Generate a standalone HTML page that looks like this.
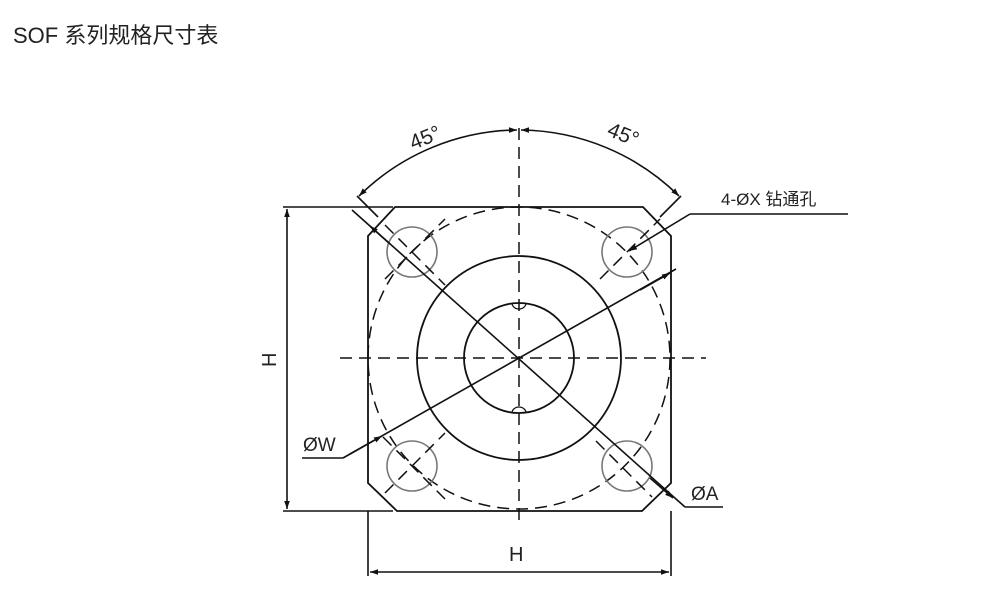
<!DOCTYPE html>
<html><head><meta charset="utf-8"><style>
html,body{margin:0;padding:0;background:#fff;width:1000px;height:593px;overflow:hidden}
svg{display:block}
text{font-family:"Liberation Sans","Noto Sans CJK SC",sans-serif;fill:#222}
</style></head><body>
<svg width="1000" height="593" viewBox="0 0 1000 593" xmlns="http://www.w3.org/2000/svg">
<defs>
<marker id="ar" viewBox="0 0 10 10" refX="10" refY="5" markerWidth="12" markerHeight="8" markerUnits="userSpaceOnUse" orient="auto-start-reverse">
<path d="M0,1.5 L10,5 L0,8.5 z" fill="#111"/>
</marker>
</defs>
<text x="13" y="43" font-size="22" fill="#333">SOF 系列规格尺寸表</text>

<g stroke="#111" stroke-width="1.8" fill="none">
<path d="M395,207 L643,207 L671,236 L671,483 L642,511 L397,511 L368,483 L368,236 Z"/>
<circle cx="519" cy="358" r="102"/>
<circle cx="519" cy="358" r="55"/>
<path d="M512,303 A7,6 0 0 0 526,303" stroke-width="1.2"/>
<path d="M512,413 A7,6 0 0 1 526,413" stroke-width="1.2"/>
</g>
<circle cx="519" cy="358" r="151" stroke="#111" stroke-width="1.5" fill="none" stroke-dasharray="12,7"/>
<g stroke="#777" stroke-width="1.6" fill="none">
<circle cx="412" cy="252" r="25"/><circle cx="627" cy="252" r="25"/>
<circle cx="412" cy="466" r="25"/><circle cx="627" cy="466" r="25"/>
</g>
<g stroke="#111" stroke-width="1.5" stroke-dasharray="12,7">
<line x1="519" y1="128" x2="519" y2="522"/>
<line x1="340" y1="358" x2="706" y2="358"/>
<line x1="385" y1="225" x2="445" y2="285"/>
<line x1="385" y1="279" x2="445" y2="219"/>
<line x1="600" y1="279" x2="660" y2="219"/>
<line x1="385" y1="493" x2="445" y2="433"/>
<line x1="383" y1="437" x2="445" y2="499"/>
<line x1="596" y1="441" x2="652" y2="497"/>
</g>
<g stroke="#111" stroke-width="1.6" fill="none">
<line x1="357" y1="196" x2="378" y2="217"/>
<line x1="681" y1="196" x2="660" y2="217"/>
<path d="M359,196 A229,229 0 0 1 517,130" marker-start="url(#ar)" marker-end="url(#ar)"/>
<path d="M521,130 A229,229 0 0 1 679,196" marker-start="url(#ar)" marker-end="url(#ar)"/>
<line x1="352" y1="210" x2="685" y2="507"/>
<line x1="685" y1="507" x2="723" y2="507"/>
<line x1="390" y1="244" x2="370" y2="226" marker-end="url(#ar)"/>
<line x1="650" y1="478" x2="673" y2="498" marker-end="url(#ar)"/>
<line x1="676" y1="269" x2="343" y2="458"/>
<line x1="343" y1="458" x2="302" y2="458"/>
<line x1="350" y1="454" x2="382" y2="436" marker-end="url(#ar)"/>
<line x1="640" y1="290" x2="670" y2="273" marker-end="url(#ar)"/>
<line x1="690" y1="214" x2="848" y2="214"/>
<line x1="690" y1="214" x2="629" y2="251" marker-end="url(#ar)"/>
<line x1="283" y1="207" x2="393" y2="207"/>
<line x1="283" y1="511" x2="393" y2="511"/>
<line x1="287" y1="209" x2="287" y2="509" marker-start="url(#ar)" marker-end="url(#ar)"/>
<line x1="368" y1="511" x2="368" y2="576"/>
<line x1="671" y1="511" x2="671" y2="576"/>
<line x1="370" y1="572" x2="669" y2="572" marker-start="url(#ar)" marker-end="url(#ar)"/>
</g>
<text x="509" y="561" font-size="20">H</text>
<text x="0" y="0" font-size="20" transform="translate(276,367) rotate(-90)">H</text>
<text x="303" y="451" font-size="19">ØW</text>
<text x="691" y="500" font-size="19">ØA</text>
<text x="721" y="205" font-size="17">4-ØX 钻通孔</text>
<text x="0" y="0" font-size="21" transform="translate(413,150) rotate(-22)">45°</text>
<text x="0" y="0" font-size="21" transform="translate(606,135) rotate(22)">45°</text>
</svg>
</body></html>
